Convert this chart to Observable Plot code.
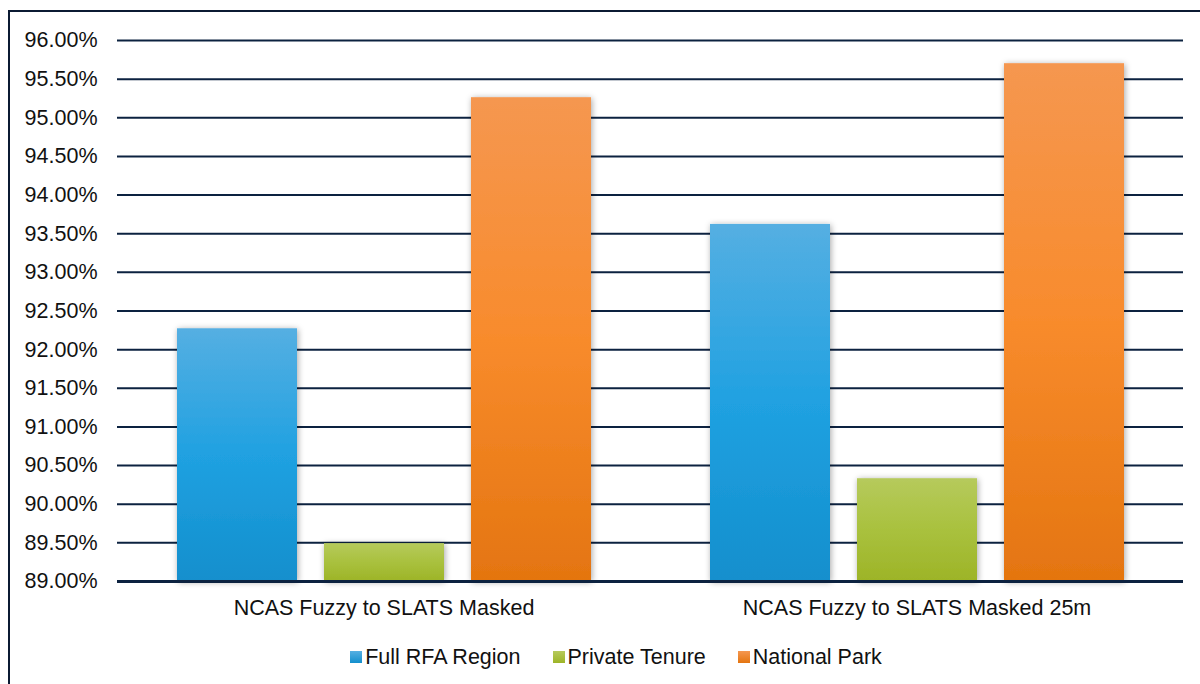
<!DOCTYPE html>
<html>
<head>
<meta charset="utf-8">
<script src="https://cdn.jsdelivr.net/npm/d3@7"></script>
<script src="https://cdn.jsdelivr.net/npm/@observablehq/plot@0.6"></script>
<style>
  html, body { margin: 0; padding: 0; background: #fff; width: 1200px; height: 684px; overflow: hidden; }
  body { position: relative; font-family: "Liberation Sans", Arial, sans-serif; }
  #frame { position: absolute; left: 8px; top: 10px; width: 1300px; height: 800px; border: 2px solid #0b1a33; box-sizing: border-box; }
  #chart { position: absolute; left: 0; top: 0; }
  #legend { position: absolute; left: 20px; top: 644px; width: 1192px; display: flex; justify-content: center; gap: 32px; font-size: 21.5px; line-height: 26px; color: #111; }
  .item { display: flex; align-items: center; }
  .sw { width: 12px; height: 12px; margin-right: 3px; display: inline-block; }
</style>
</head>
<body>
<div id="frame"></div>
<div id="chart"></div>
<div id="legend"></div>
<script>
const groups = ["NCAS Fuzzy to SLATS Masked", "NCAS Fuzzy to SLATS Masked 25m"];
const series = ["Full RFA Region", "Private Tenure", "National Park"];
const valuesMasked = [92.27, 89.49, 95.26];
const valuesMasked25m = [93.62, 90.33, 95.70];
const yTicks = [89, 89.5, 90, 90.5, 91, 91.5, 92, 92.5, 93, 93.5, 94, 94.5, 95, 95.5, 96];
const baseline = 89;
const gradients = [
  {id: "gBlue", top: "#55afe2", mid: "#20a1e1", bottom: "#138fcd"},
  {id: "gGreen", top: "#b6ca5c", mid: "#a9c13e", bottom: "#9db427"},
  {id: "gOrange", top: "#f59750", mid: "#f88b2c", bottom: "#e47510"}
];

const data = [];
[valuesMasked, valuesMasked25m].forEach((vals, gi) => {
  vals.forEach((v, si) => data.push({group: groups[gi], series: series[si], value: v}));
});

const chart = Plot.plot({
  width: 1200,
  height: 620,
  marginLeft: 117,
  marginRight: 17,
  marginTop: 40,
  marginBottom: 39,
  style: {fontFamily: "'Liberation Sans', Arial, sans-serif", fontSize: "21.5px", color: "#111", background: "transparent"},
  fx: {domain: groups, paddingInner: 0, paddingOuter: 0, label: null, axis: "bottom", tickSize: 0, tickPadding: 18},
  x: {domain: series, paddingInner: 0.1864, paddingOuter: 0.4, axis: null},
  y: {domain: [89, 96], ticks: yTicks, tickFormat: d => d.toFixed(2) + "%", tickSize: 0, tickPadding: 20, label: null},
  color: {domain: series, range: gradients.map(g => `url(#${g.id})`)},
  marks: [
    Plot.ruleY(yTicks.filter(t => t !== baseline), {stroke: "#0c2240", strokeWidth: 2}),
    Plot.barY(data, {fx: "group", x: "series", y1: baseline, y2: "value", fill: "series"}),
    Plot.ruleY([baseline], {stroke: "#0c2240", strokeWidth: 3})
  ]
});

const svg = d3.select(chart);
const defs = svg.insert("defs", ":first-child");
gradients.forEach(g => {
  const lg = defs.append("linearGradient").attr("id", g.id).attr("x1", 0).attr("y1", 0).attr("x2", 0).attr("y2", 1);
  lg.append("stop").attr("offset", "0%").attr("stop-color", g.top);
  lg.append("stop").attr("offset", "50%").attr("stop-color", g.mid);
  lg.append("stop").attr("offset", "100%").attr("stop-color", g.bottom);
});
const f = defs.append("filter").attr("id", "shadow").attr("x", "-20%").attr("y", "-20%").attr("width", "140%").attr("height", "140%");
f.append("feDropShadow").attr("dx", 1).attr("dy", 1).attr("stdDeviation", 3).attr("flood-color", "#000").attr("flood-opacity", 0.35);
svg.selectAll('g[aria-label="bar"] rect').attr("filter", "url(#shadow)");

document.getElementById("chart").appendChild(chart);

const legend = d3.select("#legend");
series.forEach((s, i) => {
  const g = gradients[i];
  const it = legend.append("div").attr("class", "item");
  it.append("span").attr("class", "sw").style("background", `linear-gradient(${g.top}, ${g.bottom})`);
  it.append("span").text(s);
});
</script>
</body>
</html>
